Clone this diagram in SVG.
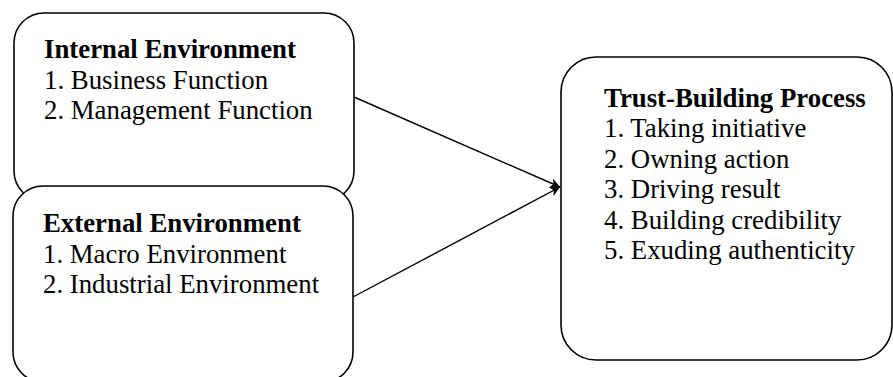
<svg xmlns="http://www.w3.org/2000/svg" width="893" height="377" viewBox="0 0 893 377">
<style>
.box{fill:#fff;stroke:#000;stroke-width:1.6}
.t{font-family:"Liberation Serif","Times New Roman",serif;font-size:26.8px;fill:#000}
.b{font-weight:bold}
.c{stroke:#000;stroke-width:1.4;fill:none}
</style>
<defs>
<marker id="ah" viewBox="0 0 10 10" refX="10" refY="5" markerWidth="12" markerHeight="10" markerUnits="userSpaceOnUse" orient="auto">
<path d="M0,0 L10,5 L0,10 L3,5 Z" fill="#000"/>
</marker>
</defs>
<rect width="893" height="377" fill="#fff"/>
<g id="internal">
<rect class="box" x="14" y="13" width="340" height="188" rx="30" ry="30"/>
<text class="t" x="44" y="58"><tspan class="b">Internal Environment</tspan><tspan x="44" y="89">1. Business Function</tspan><tspan x="44" y="119">2. Management Function</tspan></text>
</g>
<g id="external">
<rect class="box" x="13" y="186" width="340" height="196" rx="30" ry="30"/>
<text class="t" x="43" y="232"><tspan class="b">External Environment</tspan><tspan x="43" y="263">1. Macro Environment</tspan><tspan x="43" y="293">2. Industrial Environment</tspan></text>
</g>
<g id="trust">
<rect class="box" x="561" y="57" width="331" height="303" rx="35" ry="35"/>
<text class="t" x="604" y="107"><tspan class="b">Trust-Building Process</tspan><tspan x="604" y="137">1. Taking initiative</tspan><tspan x="604" y="168">2. Owning action</tspan><tspan x="604" y="198">3. Driving result</tspan><tspan x="604" y="229">4. Building credibility</tspan><tspan x="604" y="259">5. Exuding authenticity</tspan></text>
</g>
<g id="connectors">
<line class="c" x1="354" y1="97" x2="560" y2="187" marker-end="url(#ah)"/>
<line class="c" x1="353" y1="297" x2="560" y2="187" marker-end="url(#ah)"/>
</g>
</svg>
